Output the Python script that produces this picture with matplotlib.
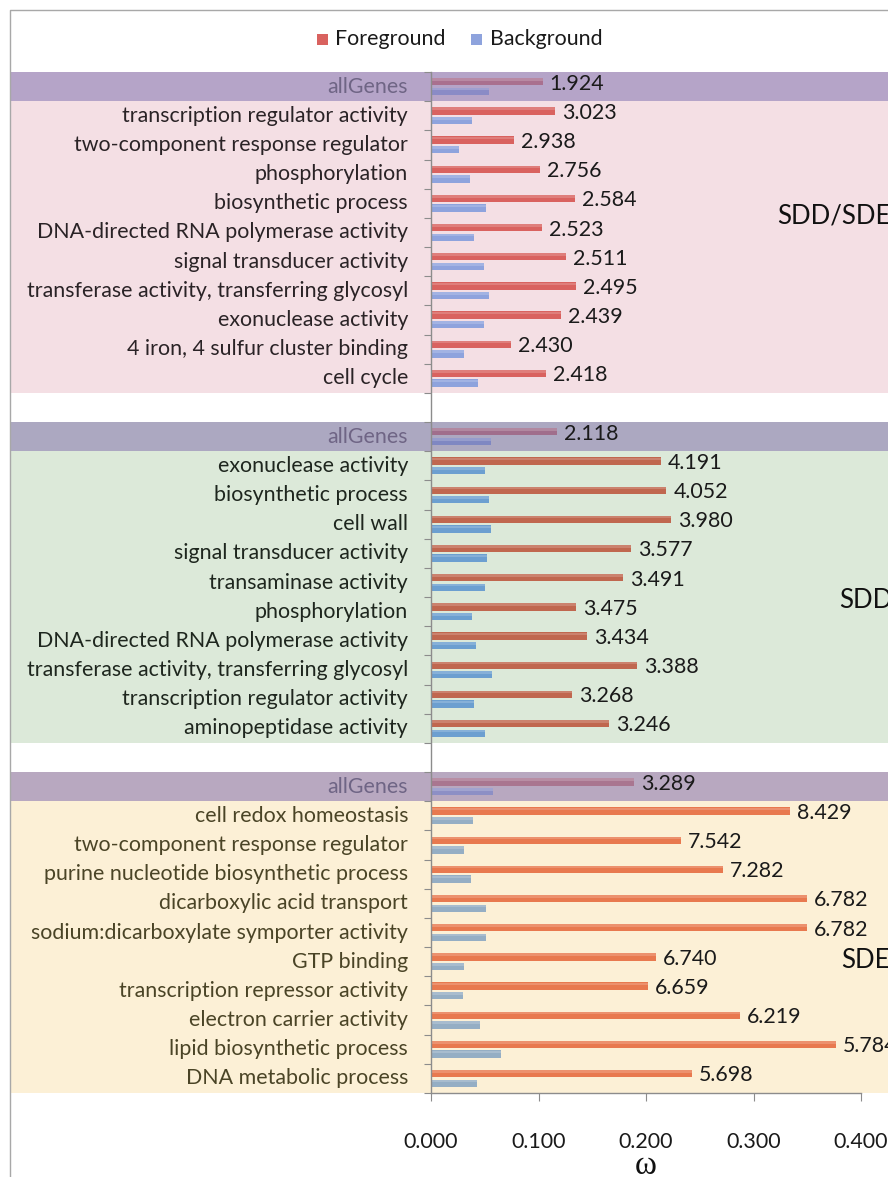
import numpy as np
import matplotlib.pyplot as plt
from matplotlib.patches import Rectangle
from matplotlib.lines import Line2D
import matplotlib.transforms as mtransforms

# ==========================================
# DATA (first entry of each panel = allGenes)
# ==========================================
panel_names = ['SDD/SDE', 'SDD', 'SDE']

sdd_sde_terms = ['allGenes', 'transcription regulator activity', 'two-component response regulator',
                 'phosphorylation', 'biosynthetic process', 'DNA-directed RNA polymerase activity',
                 'signal transducer activity', 'transferase activity, transferring glycosyl',
                 'exonuclease activity', '4 iron, 4 sulfur cluster binding', 'cell cycle']
sdd_sde_fg = [0.104, 0.115, 0.0775, 0.101, 0.134, 0.103, 0.126, 0.1346, 0.1206, 0.0744, 0.107]
sdd_sde_bg = [0.054, 0.038, 0.026, 0.036, 0.0515, 0.040, 0.0496, 0.0537, 0.049, 0.0304, 0.0437]
sdd_sde_ratio = [1.924, 3.023, 2.938, 2.756, 2.584, 2.523, 2.511, 2.495, 2.439, 2.430, 2.418]

sdd_terms = ['allGenes', 'exonuclease activity', 'biosynthetic process', 'cell wall',
             'signal transducer activity', 'transaminase activity', 'phosphorylation',
             'DNA-directed RNA polymerase activity', 'transferase activity, transferring glycosyl',
             'transcription regulator activity', 'aminopeptidase activity']
sdd_fg = [0.1175, 0.2137, 0.219, 0.2235, 0.1858, 0.1783, 0.1349, 0.1448, 0.1919, 0.1309, 0.166]
sdd_bg = [0.0555, 0.0505, 0.054, 0.0558, 0.052, 0.0505, 0.0384, 0.0416, 0.0566, 0.040, 0.0505]
sdd_ratio = [2.118, 4.191, 4.052, 3.980, 3.577, 3.491, 3.475, 3.434, 3.388, 3.268, 3.246]

sde_terms = ['allGenes', 'cell redox homeostasis', 'two-component response regulator',
             'purine nucleotide biosynthetic process', 'dicarboxylic acid transport',
             'sodium:dicarboxylate symporter activity', 'GTP binding',
             'transcription repressor activity', 'electron carrier activity',
             'lipid biosynthetic process', 'DNA metabolic process']
sde_fg = [0.189, 0.334, 0.2326, 0.2716, 0.3495, 0.3495, 0.209, 0.2019, 0.2874, 0.3765, 0.2428]
sde_bg = [0.0574, 0.039, 0.0306, 0.0372, 0.0516, 0.0516, 0.0306, 0.0302, 0.0456, 0.065, 0.0426]
sde_ratio = [3.289, 8.429, 7.542, 7.282, 6.782, 6.782, 6.740, 6.659, 6.219, 5.784, 5.698]

x_ticks = [0.0, 0.1, 0.2, 0.3, 0.4]

# ==========================================
# STYLE
# ==========================================
FONT = 'Lato'
FS = 15.4
W, H = 888, 1177

panels = [
    dict(terms=sdd_sde_terms, fg=sdd_sde_fg, bg=sdd_sde_bg, ratio=sdd_sde_ratio,
         band='#f4dfe4', purple='#b5a4c8', fgc='#d9625f', bgc='#8ea3dd',
         fg_all='#a9708f', bg_all='#8a8bc6', txt='#2a2326',
         tag_xy=(777, 216)),
    dict(terms=sdd_terms, fg=sdd_fg, bg=sdd_bg, ratio=sdd_ratio,
         band='#dce9d9', purple='#aca8c1', fgc='#c0674f', bgc='#6c9fd0',
         fg_all='#a06e8c', bg_all='#7f87c2', txt='#1e261e',
         tag_xy=(839, 600)),
    dict(terms=sde_terms, fg=sde_fg, bg=sde_bg, ratio=sde_ratio,
         band='#fcf0d6', purple='#b8a8c0', fgc='#e8794f', bgc='#95aec4',
         fg_all='#a97690', bg_all='#8d8fc5', txt='#4a4426',
         tag_xy=(841, 960)),
]


def fx(x):
    return x / W


def fy(y):
    return 1 - y / H


fig = plt.figure(figsize=(W / 100, H / 100), dpi=100)
ax = fig.add_axes([fx(431), fy(1093), (861 - 431) / W, (1093 - 72) / H])
ax.set_facecolor('none')

n_rows = 35
ax.set_xlim(0, 0.4)
ax.set_ylim(n_rows - 0.5, -0.5)

# x in figure coords, y in data coords
band_tr = mtransforms.blended_transform_factory(fig.transFigure, ax.transData)

bh = 0.25
off = 0.165
start = 0
for k, p in enumerate(panels):
    n = len(p['terms'])
    rows = np.arange(start, start + n)
    # coloured band
    ax.add_patch(Rectangle((fx(11), start + 0.5), 1 - fx(11), n - 1, transform=band_tr,
                           facecolor=p['band'], edgecolor='none', zorder=0.1, clip_on=False))
    ax.add_patch(Rectangle((fx(11), start - 0.5), 1 - fx(11), 1, transform=band_tr,
                           facecolor=p['purple'], edgecolor='none', zorder=0.1, clip_on=False))
    fgcols = [p['fg_all']] + [p['fgc']] * (n - 1)
    bgcols = [p['bg_all']] + [p['bgc']] * (n - 1)
    ax.barh(rows - off, p['fg'], height=bh, color=fgcols, zorder=2)
    ax.barh(rows + off, p['bg'], height=bh, color=bgcols, zorder=2)
    # soft highlight on top of each bar
    ax.barh(rows - off - bh * 0.3, p['fg'], height=bh * 0.35, color='white', alpha=0.18,
            zorder=2.1)
    ax.barh(rows + off - bh * 0.3, p['bg'], height=bh * 0.35, color='white', alpha=0.18,
            zorder=2.1)
    for i, r in enumerate(rows):
        col = '#6f6585' if i == 0 else p['txt']
        ax.text(fx(408), r, p['terms'][i], transform=band_tr, ha='right', va='center',
                fontsize=FS, family=FONT, color=col, clip_on=False)
        ax.text(p['fg'][i] + 0.0065, r - 0.1, f"{p['ratio'][i]:.3f}", ha='left', va='center',
                fontsize=FS, family=FONT, color='#1a1a1a', clip_on=False)
    fig.text(fx(p['tag_xy'][0]), fy(p['tag_xy'][1]), panel_names[k],
             ha='left', va='center', fontsize=18.5, family=FONT, color='#111111')
    start += n + 1

# axes styling
for s in ['top', 'right']:
    ax.spines[s].set_visible(False)
for s in ['left', 'bottom']:
    ax.spines[s].set_color('#8c8c8c')
    ax.spines[s].set_linewidth(1)
ax.set_yticks(np.arange(-0.5, n_rows, 1))
ax.set_yticklabels([])
ax.tick_params(axis='y', direction='out', length=5, color='#8c8c8c')
ax.set_xticks(x_ticks)
ax.set_xticklabels([f'{v:.3f}' for v in x_ticks], fontsize=FS, family=FONT, color='#1a1a1a')
ax.tick_params(axis='x', direction='out', length=6, color='#8c8c8c', pad=22)

fig.text(fx(646), fy(1166), 'ω', ha='center', va='center', fontsize=24,
         family='Liberation Serif', color='#111111')

# legend
fig.add_artist(Rectangle((fx(317), fy(45)), 11 / W, 11 / H, transform=fig.transFigure,
                         facecolor='#d9625f', edgecolor='none'))
fig.text(fx(335), fy(39), 'Foreground', ha='left', va='center', fontsize=FS, family=FONT,
         color='#1a1a1a')
fig.add_artist(Rectangle((fx(471), fy(45)), 11 / W, 11 / H, transform=fig.transFigure,
                         facecolor='#8ea3dd', edgecolor='none'))
fig.text(fx(490), fy(39), 'Background', ha='left', va='center', fontsize=FS, family=FONT,
         color='#1a1a1a')

# outer frame
fig.add_artist(Line2D([fx(10), fx(10), 1], [0, fy(10), fy(10)], transform=fig.transFigure,
                      color='#a8a8a8', lw=1))

fig.savefig('out.png', dpi=100)
